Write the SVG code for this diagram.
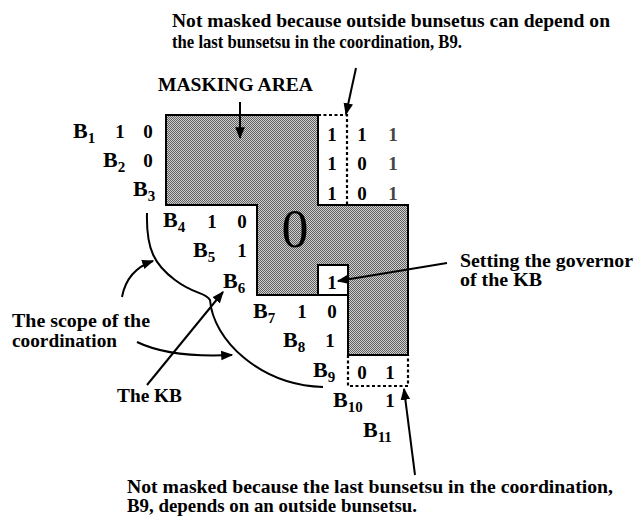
<svg xmlns="http://www.w3.org/2000/svg" width="635" height="519" viewBox="0 0 635 519">
<style>
text{font-family:"Liberation Serif","Times New Roman",serif;font-weight:bold;fill:#000}
.lbl{font-size:19px}
.b{font-size:22px}
.s{font-size:15px}
.n{font-size:19px}
.ln{fill:none;stroke:#000;stroke-width:2}
.dot{fill:none;stroke:#000;stroke-width:2.2;stroke-dasharray:3 2.5}
</style>
<defs>
<pattern id="stip" width="2" height="2" patternUnits="userSpaceOnUse">
<rect width="2" height="2" fill="#d0d0d0"/>
<rect width="1" height="1" fill="#606060"/>
<rect x="1" y="1" width="1" height="1" fill="#606060"/>
</pattern>
<marker id="ah" viewBox="0 0 10 10" refX="9" refY="5" markerWidth="6" markerHeight="6" orient="auto" markerUnits="strokeWidth">
<path d="M0,1 L10,5 L0,9 z" fill="#000"/>
</marker>
</defs>
<rect width="635" height="519" fill="#fff"/>

<g id="mask">
<path d="M166,115 L318,115 L318,205 L408,205 L408,355 L348,355 L348,295 L257,295 L257,205 L166,205 Z" fill="url(#stip)" stroke="#000" stroke-width="2"/>
<text x="295" y="247" style="font-size:54px;font-weight:normal" text-anchor="middle">0</text>
</g>
<g id="govbox">
<rect x="318" y="265" width="30" height="30" fill="#fff" stroke="#000" stroke-width="2"/>
<text class="n" x="332" y="289" text-anchor="middle">1</text>
</g>
<g id="topcells">
<path class="dot" d="M318,115 L347,115 L347,205"/>
<text class="n" x="332" y="141" text-anchor="middle">1</text>
<text class="n" x="362" y="141" text-anchor="middle">1</text>
<text class="n" x="393" y="141" text-anchor="middle" style="fill:#444">1</text>
<text class="n" x="332" y="170" text-anchor="middle">1</text>
<text class="n" x="362" y="170" text-anchor="middle">0</text>
<text class="n" x="393" y="170" text-anchor="middle" style="fill:#444">1</text>
<text class="n" x="332" y="200" text-anchor="middle">1</text>
<text class="n" x="362" y="200" text-anchor="middle">0</text>
<text class="n" x="393" y="200" text-anchor="middle" style="fill:#444">1</text>
</g>
<g id="bottomcells">
<path class="dot" d="M348,355 L348,386 L408,386 L408,355"/>
<text class="n" x="362" y="379" text-anchor="middle">0</text>
<text class="n" x="390" y="379" text-anchor="middle">1</text>
</g>

<g id="rows">
<text class="b" x="73" y="138">B<tspan class="s" dy="5">1</tspan></text>
<text class="n" x="120" y="138" text-anchor="middle">1</text>
<text class="n" x="148" y="138" text-anchor="middle">0</text>
<text class="b" x="103" y="167">B<tspan class="s" dy="5">2</tspan></text>
<text class="n" x="148" y="167" text-anchor="middle">0</text>
<text class="b" x="133" y="196">B<tspan class="s" dy="5">3</tspan></text>
<text class="b" x="163" y="227">B<tspan class="s" dy="5">4</tspan></text>
<text class="n" x="212" y="228" text-anchor="middle">1</text>
<text class="n" x="242" y="228" text-anchor="middle">0</text>
<text class="b" x="193" y="257">B<tspan class="s" dy="5">5</tspan></text>
<text class="n" x="242" y="257" text-anchor="middle">1</text>
<text class="b" x="223" y="288">B<tspan class="s" dy="5">6</tspan></text>
<text class="b" x="253" y="318">B<tspan class="s" dy="5">7</tspan></text>
<text class="n" x="302" y="318" text-anchor="middle">1</text>
<text class="n" x="332" y="318" text-anchor="middle">0</text>
<text class="b" x="283" y="347">B<tspan class="s" dy="5">8</tspan></text>
<text class="n" x="330" y="347" text-anchor="middle">1</text>
<text class="b" x="313" y="377">B<tspan class="s" dy="5">9</tspan></text>
<text class="b" x="333" y="407">B<tspan class="s" dy="5">10</tspan></text>
<text class="n" x="390" y="407" text-anchor="middle">1</text>
<text class="b" x="363" y="437">B<tspan class="s" dy="5">11</tspan></text>
</g>

<g id="labels">
<text class="lbl" x="172" y="27" textLength="438" lengthAdjust="spacingAndGlyphs">Not masked because outside bunsetus can depend on</text>
<text class="lbl" x="172" y="48" textLength="290" lengthAdjust="spacingAndGlyphs">the last bunsetsu in the coordination, B9.</text>
<text class="lbl" x="158" y="91" textLength="155" lengthAdjust="spacingAndGlyphs">MASKING AREA</text>
<text class="lbl" x="460" y="267" textLength="173" lengthAdjust="spacingAndGlyphs">Setting the governor</text>
<text class="lbl" x="460" y="286" textLength="82" lengthAdjust="spacingAndGlyphs">of the KB</text>
<text class="lbl" x="12" y="327" textLength="138" lengthAdjust="spacingAndGlyphs">The scope of the</text>
<text class="lbl" x="12" y="347" textLength="105" lengthAdjust="spacingAndGlyphs">coordination</text>
<text class="lbl" x="117" y="402" textLength="65" lengthAdjust="spacingAndGlyphs">The KB</text>
<text class="lbl" x="127" y="493" textLength="486" lengthAdjust="spacingAndGlyphs">Not masked because the last bunsetsu in the coordination,</text>
<text class="lbl" x="127" y="512" textLength="290" lengthAdjust="spacingAndGlyphs">B9, depends on an outside bunsetsu.</text>
</g>

<g id="connectors">
<path class="ln" d="M147,213 C146,250 155,265 175,280 S205,292 210,300 C213,340 260,385 323,387"/>
<line class="ln" x1="356" y1="68" x2="346" y2="114" marker-end="url(#ah)"/>
<line class="ln" x1="240" y1="102" x2="240" y2="138" marker-end="url(#ah)"/>
<line class="ln" x1="447" y1="263" x2="338" y2="281" marker-end="url(#ah)"/>
<line class="ln" x1="415" y1="475" x2="404" y2="389" marker-end="url(#ah)"/>
<path class="ln" d="M122,297 Q127,270 153,261" marker-end="url(#ah)"/>
<path class="ln" d="M137,342 Q170,358 232,355" marker-end="url(#ah)"/>
<line class="ln" x1="147" y1="385" x2="223" y2="292" marker-end="url(#ah)"/>
</g>
</svg>
